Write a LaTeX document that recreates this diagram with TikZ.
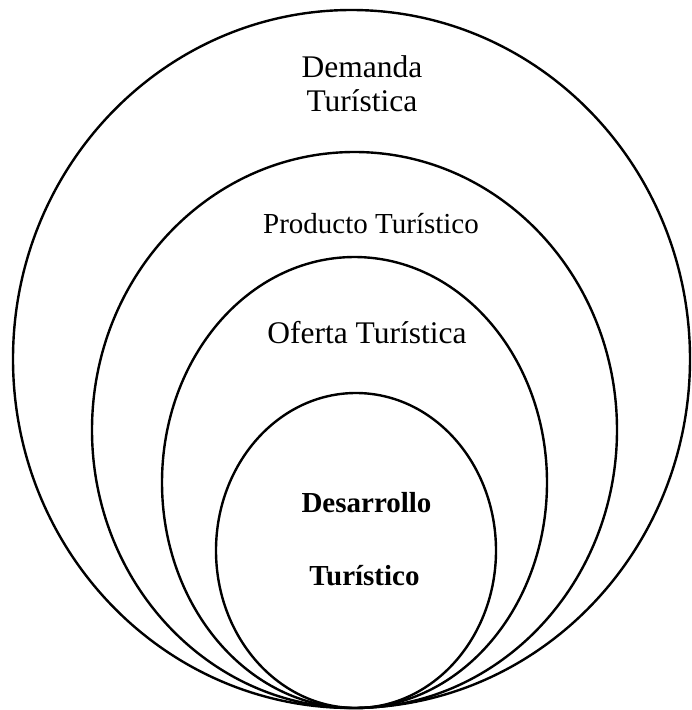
\documentclass[tikz,border=0pt]{standalone}
\usepackage{fontspec}
\setmainfont{Liberation Serif}
\begin{document}
\begin{tikzpicture}[x=1pt,y=-1pt,
  ring/.style={draw=black,line width=2.4pt},
  lbl/.style={font=\fontsize{31.5}{36}\selectfont,inner sep=0pt,anchor=base},
  slbl/.style={font=\fontsize{29}{34}\selectfont,inner sep=0pt,anchor=base},
  blbl/.style={font=\fontsize{29}{34}\selectfont\bfseries,inner sep=0pt,anchor=base}]
\useasboundingbox (0,0) rectangle (692,710);
\draw[ring] (351.5,359) ellipse [x radius=338.5, y radius=349];
\draw[ring] (354.5,430) ellipse [x radius=262.5, y radius=278];
\draw[ring] (354.5,482.5) ellipse [x radius=192.5, y radius=225.5];
\draw[ring] (356,550.5) ellipse [x radius=140, y radius=157.5];
\node[lbl] (dem1) at (362,77) {Demanda};
\node[lbl] (dem2) at (362,111) {Turística};
\node[slbl] (prod) at (371,233) {Producto Turístico};
\node[lbl] (ofe) at (367,343) {Oferta Turística};
\node[blbl] (des1) at (366.5,512) {Desarrollo};
\node[blbl] (des2) at (364.5,585) {Turístico};
\end{tikzpicture}
\end{document}
